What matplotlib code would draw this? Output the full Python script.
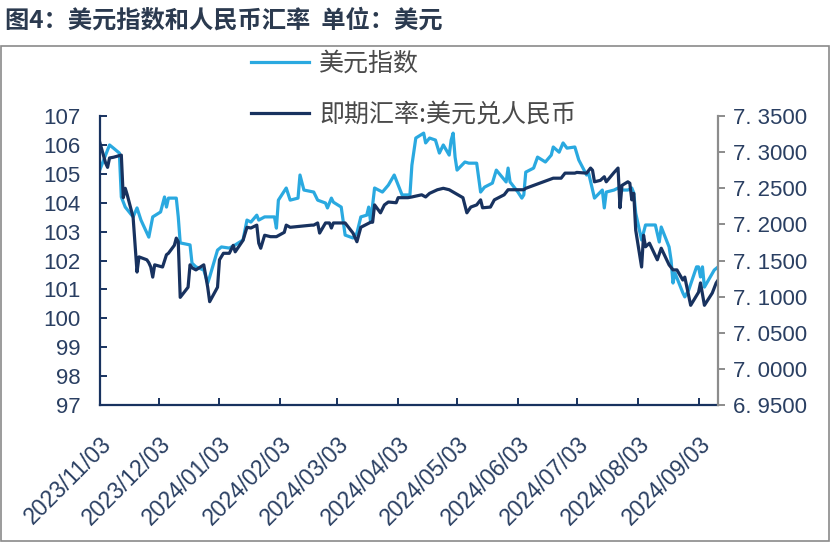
import matplotlib
matplotlib.use("Agg")
import matplotlib.pyplot as plt
from matplotlib.patches import Rectangle
import pandas as pd

# 美元指数 (left axis)
dxy_dates = [
    "2023-11-03", "2023-11-08", "2023-11-10", "2023-11-13", "2023-11-14", "2023-11-16",
    "2023-11-20", "2023-11-22", "2023-11-24", "2023-11-28", "2023-11-30", "2023-12-04",
    "2023-12-06", "2023-12-07", "2023-12-08", "2023-12-12", "2023-12-13", "2023-12-14",
    "2023-12-19", "2023-12-20", "2023-12-22", "2023-12-26", "2023-12-28", "2023-12-29",
    "2024-01-02", "2024-01-04", "2024-01-08", "2024-01-11", "2024-01-15", "2024-01-17",
    "2024-01-19", "2024-01-22", "2024-01-23", "2024-01-26", "2024-01-31", "2024-02-01",
    "2024-02-02", "2024-02-06", "2024-02-08", "2024-02-12", "2024-02-13", "2024-02-15",
    "2024-02-20", "2024-02-22", "2024-02-26", "2024-02-27", "2024-02-29", "2024-03-01",
    "2024-03-05", "2024-03-07", "2024-03-11", "2024-03-13", "2024-03-15", "2024-03-18",
    "2024-03-19", "2024-03-20", "2024-03-22", "2024-03-26", "2024-03-29", "2024-04-01",
    "2024-04-03", "2024-04-05", "2024-04-09", "2024-04-10", "2024-04-12", "2024-04-16",
    "2024-04-17", "2024-04-19", "2024-04-22", "2024-04-24", "2024-04-26", "2024-04-29",
    "2024-04-30", "2024-05-01", "2024-05-02", "2024-05-03", "2024-05-07", "2024-05-09",
    "2024-05-13", "2024-05-15", "2024-05-17", "2024-05-21", "2024-05-23", "2024-05-28",
    "2024-05-29", "2024-05-30", "2024-06-03", "2024-06-05", "2024-06-06", "2024-06-07",
    "2024-06-11", "2024-06-13", "2024-06-17", "2024-06-20", "2024-06-21", "2024-06-24",
    "2024-06-26", "2024-06-28", "2024-07-02", "2024-07-04", "2024-07-08", "2024-07-09",
    "2024-07-11", "2024-07-12", "2024-07-16", "2024-07-17", "2024-07-18", "2024-07-22",
    "2024-07-24", "2024-07-25", "2024-07-29", "2024-07-31", "2024-08-01", "2024-08-02",
    "2024-08-05", "2024-08-07", "2024-08-09", "2024-08-12", "2024-08-14", "2024-08-15",
    "2024-08-19", "2024-08-20", "2024-08-21", "2024-08-22", "2024-08-26", "2024-08-27",
    "2024-08-29", "2024-09-02", "2024-09-03", "2024-09-04", "2024-09-05", "2024-09-06",
    "2024-09-09", "2024-09-11", "2024-09-13",
]
dxy_values = [
    105.13, 106.00, 105.89, 105.72, 104.20, 103.85,
    103.51, 103.82, 103.40, 102.81, 103.51, 103.68,
    104.20, 103.85, 104.16, 104.16, 103.51, 102.61,
    102.54, 101.91, 101.78, 101.67, 101.22, 101.43,
    102.36, 102.47, 102.43, 102.54, 102.71, 103.40,
    103.33, 103.57, 103.40, 103.51, 103.51, 103.12,
    104.09, 104.51, 104.09, 104.16, 104.96, 104.44,
    104.37, 104.09, 103.99, 103.82, 104.16, 104.02,
    103.85, 102.88, 102.78, 102.95, 103.51, 103.57,
    103.85, 103.33, 104.51, 104.37, 104.61, 104.96,
    104.61, 104.27, 104.27, 105.30, 106.24, 106.41,
    106.07, 106.24, 106.17, 105.72, 106.00, 105.65,
    106.17, 106.41, 105.58, 105.13, 105.41, 105.37,
    105.37, 104.37, 104.54, 104.68, 105.13, 104.72,
    105.20, 104.72, 104.37, 104.16, 104.27, 105.06,
    105.20, 105.58, 105.41, 105.65, 105.93, 105.75,
    106.07, 105.89, 105.93, 105.48, 104.96, 105.03,
    104.44, 104.16, 104.44, 103.82, 104.37, 104.44,
    104.51, 104.44, 104.44, 104.51, 104.34, 103.64,
    102.71, 103.23, 103.23, 103.23, 102.64, 103.16,
    102.47, 102.02, 101.22, 101.57, 100.88, 100.74,
    100.98, 101.78, 101.78, 101.43, 101.78, 101.08,
    101.43, 101.67, 101.78,
]

# 即期汇率:美元兑人民币 (right axis)
cny_dates = [
    "2023-11-03", "2023-11-06", "2023-11-07", "2023-11-08", "2023-11-10", "2023-11-14",
    "2023-11-15", "2023-11-16", "2023-11-17", "2023-11-20", "2023-11-22", "2023-11-23",
    "2023-11-27", "2023-11-28", "2023-11-29", "2023-11-30", "2023-12-01", "2023-12-05",
    "2023-12-07", "2023-12-08", "2023-12-11", "2023-12-12", "2023-12-13", "2023-12-14",
    "2023-12-18", "2023-12-19", "2023-12-20", "2023-12-22", "2023-12-26", "2023-12-28",
    "2023-12-29", "2024-01-02", "2024-01-03", "2024-01-05", "2024-01-08", "2024-01-10",
    "2024-01-11", "2024-01-15", "2024-01-17", "2024-01-19", "2024-01-22", "2024-01-23",
    "2024-01-24", "2024-01-26", "2024-01-29", "2024-02-01", "2024-02-05", "2024-02-06",
    "2024-02-08", "2024-02-19", "2024-02-20", "2024-02-22", "2024-02-23", "2024-02-26",
    "2024-02-28", "2024-02-29", "2024-03-01", "2024-03-07", "2024-03-11", "2024-03-13",
    "2024-03-15", "2024-03-20", "2024-03-21", "2024-03-22", "2024-03-25", "2024-03-27",
    "2024-03-29", "2024-04-02", "2024-04-03", "2024-04-08", "2024-04-10", "2024-04-15",
    "2024-04-17", "2024-04-19", "2024-04-23", "2024-04-26", "2024-04-29", "2024-05-06",
    "2024-05-08", "2024-05-10", "2024-05-13", "2024-05-15", "2024-05-16", "2024-05-20",
    "2024-05-22", "2024-05-27", "2024-05-29", "2024-06-03", "2024-06-06", "2024-06-07",
    "2024-06-11", "2024-06-14", "2024-06-18", "2024-06-21", "2024-06-25", "2024-06-27",
    "2024-07-02", "2024-07-03", "2024-07-08", "2024-07-10", "2024-07-11", "2024-07-12",
    "2024-07-15", "2024-07-17", "2024-07-18", "2024-07-22", "2024-07-24", "2024-07-25",
    "2024-07-26", "2024-07-29", "2024-07-30", "2024-07-31", "2024-08-01", "2024-08-02",
    "2024-08-05", "2024-08-06", "2024-08-07", "2024-08-09", "2024-08-13", "2024-08-15",
    "2024-08-19", "2024-08-21", "2024-08-23", "2024-08-26", "2024-08-27", "2024-08-30",
    "2024-09-03", "2024-09-04", "2024-09-06", "2024-09-10", "2024-09-12", "2024-09-13",
]
cny_values = [
    7.314, 7.285, 7.279, 7.292, 7.293, 7.296,
    7.237, 7.250, 7.241, 7.210, 7.134, 7.155,
    7.151, 7.147, 7.141, 7.127, 7.144, 7.141,
    7.158, 7.160, 7.171, 7.181, 7.176, 7.099,
    7.113, 7.144, 7.140, 7.137, 7.144, 7.113,
    7.093, 7.113, 7.151, 7.160, 7.160, 7.171,
    7.162, 7.178, 7.196, 7.195, 7.199, 7.174,
    7.167, 7.185, 7.183, 7.183, 7.189, 7.199,
    7.196, 7.199, 7.199, 7.202, 7.188, 7.202,
    7.202, 7.195, 7.202, 7.202, 7.188, 7.176,
    7.196, 7.203, 7.203, 7.227, 7.216, 7.227,
    7.231, 7.230, 7.237, 7.237, 7.238, 7.241,
    7.238, 7.243, 7.248, 7.250, 7.248, 7.237,
    7.216, 7.224, 7.227, 7.234, 7.223, 7.224,
    7.234, 7.241, 7.248, 7.248, 7.248, 7.250,
    7.254, 7.257, 7.261, 7.264, 7.264, 7.271,
    7.271, 7.272, 7.271, 7.278, 7.275, 7.259,
    7.261, 7.266, 7.259, 7.272, 7.278, 7.223,
    7.254, 7.259, 7.257, 7.234, 7.243, 7.192,
    7.141, 7.185, 7.169, 7.174, 7.151, 7.167,
    7.144, 7.137, 7.137, 7.123, 7.127, 7.088,
    7.106, 7.119, 7.088, 7.105, 7.119, 7.123,
]

tick_dates = ["2023-11-03", "2023-12-03", "2024-01-03", "2024-02-03", "2024-03-03",
              "2024-04-03", "2024-05-03", "2024-06-03", "2024-07-03", "2024-08-03",
              "2024-09-03"]
left_ticks = [97, 98, 99, 100, 101, 102, 103, 104, 105, 106, 107]
right_ticks = [6.95, 7.00, 7.05, 7.10, 7.15, 7.20, 7.25, 7.30, 7.35]

LIGHT = "#2aa9e0"
DARK = "#18325f"
TEXT = "#2a3f62"
NUM_FONT = ["Liberation Sans", "DejaVu Sans"]
CJK_FONT = ["Noto Sans CJK SC", "DejaVu Sans"]

fig = plt.figure(figsize=(8.38, 5.45), dpi=100)
ax = fig.add_axes([0.119, 0.257, 0.738, 0.530])
ax2 = ax.twinx()

dxy_x = pd.to_datetime(dxy_dates)
cny_x = pd.to_datetime(cny_dates)
l1, = ax.plot(dxy_x, dxy_values, color=LIGHT, lw=2.3, label="美元指数")
l2, = ax2.plot(cny_x, cny_values, color=DARK, lw=2.3, label="即期汇率:美元兑人民币")

ax.set_xlim(pd.Timestamp("2023-11-03"), pd.Timestamp("2024-09-13"))
ax.set_ylim(97, 107)
ax2.set_ylim(6.95, 7.35)

ax.set_yticks(left_ticks)
ax.set_yticklabels([str(v) for v in left_ticks], family=NUM_FONT, fontsize=16, color=TEXT)
ax2.set_yticks(right_ticks)
ax2.set_yticklabels([f"{v:.4f}".replace(".", ". ") for v in right_ticks],
                    family=NUM_FONT, fontsize=16, color=TEXT)

ax.set_xticks(pd.to_datetime(tick_dates))
ax.set_xticklabels([d.replace("-", "/") for d in tick_dates], family=NUM_FONT,
                   fontsize=16.5, color=TEXT, rotation=45, ha="right",
                   rotation_mode="anchor", va="top")

ax.spines["top"].set_visible(False)
ax2.spines["top"].set_visible(False)
ax2.spines["left"].set_visible(False)
ax2.spines["bottom"].set_visible(False)
ax.spines["right"].set_visible(False)
ax.spines["left"].set_color(DARK)
ax.spines["bottom"].set_color(DARK)
ax.spines["left"].set_linewidth(1.6)
ax.spines["bottom"].set_linewidth(1.6)
ax2.spines["right"].set_color("#8c8c8c")
ax2.spines["right"].set_linewidth(1.6)

ax.tick_params(axis="y", direction="in", length=5, width=1.4, color=DARK, pad=14)
ax.tick_params(axis="x", direction="in", length=5, width=1.4, color=DARK, pad=20)
ax2.tick_params(axis="y", direction="out", length=5, width=1.4, color="#8c8c8c", pad=6)

fig.legend(handles=[l1, l2], loc="upper left", bbox_to_anchor=(0.300, 0.907),
           frameon=False, prop={"family": CJK_FONT, "size": 18, "weight": "light"},
           handlelength=2.3, handletextpad=0.4, labelspacing=1.0,
           borderpad=0, borderaxespad=0, labelcolor="#4a4a4a")

fig.text(0.006, 0.962, "图4：美元指数和人民币汇率  单位：美元", family=CJK_FONT,
         fontsize=17.5, fontweight="bold", color="#2b3a4f", va="center", ha="left")

fig.add_artist(Rectangle((0.001, 0.007), 0.988, 0.909, transform=fig.transFigure,
                         fill=False, edgecolor="#8a8a8a", lw=1.2))

fig.savefig("out.png", dpi=100)
